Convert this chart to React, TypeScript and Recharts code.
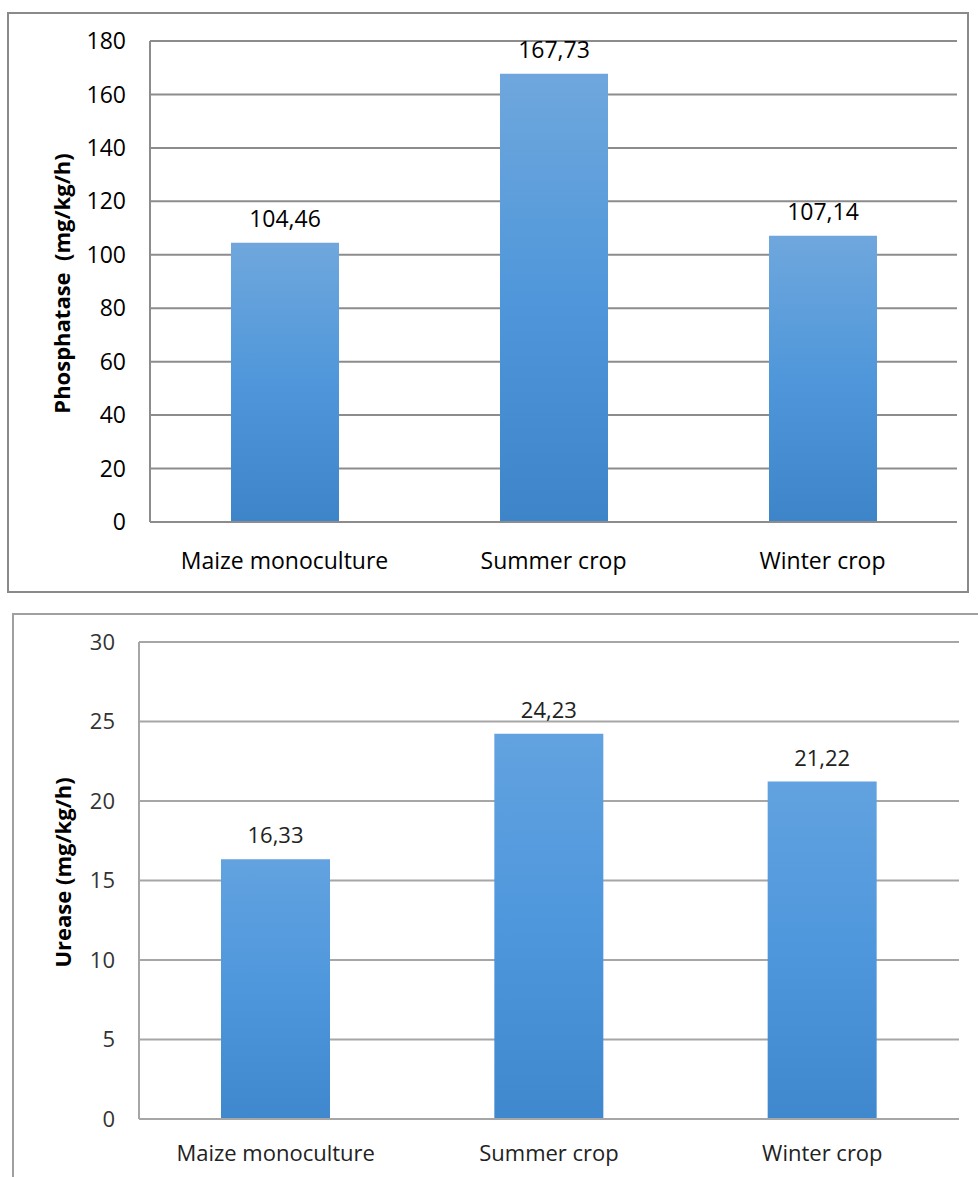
import React from 'react';
import { BarChart, Bar, XAxis, YAxis, CartesianGrid, LabelList } from 'recharts';

const categories = ['Maize monoculture', 'Summer crop', 'Winter crop'];
const phosphataseValues = [104.46, 167.73, 107.14];
const ureaseValues = [16.33, 24.23, 21.22];
const phosphataseTicks = [0, 20, 40, 60, 80, 100, 120, 140, 160, 180];
const ureaseTicks = [0, 5, 10, 15, 20, 25, 30];

const phosphataseData = categories.map((name, i) => ({ name, value: phosphataseValues[i] }));
const ureaseData = categories.map((name, i) => ({ name, value: ureaseValues[i] }));

const FONT = '"Open Sans", "DejaVu Sans", sans-serif';
const fmt = (v: any) => Number(v).toFixed(2).replace('.', ',');

const makeTitle = (text: string, dx: number, dy: number, size: number) => (props: any) => {
  const vb = props.viewBox || {};
  const cx = (vb.x || 0) + dx;
  const cy = (vb.y || 0) + (vb.height || 0) / 2 + dy;
  return (
    <text
      x={cx}
      y={cy}
      transform={`rotate(-90 ${cx} ${cy})`}
      textAnchor="middle"
      dominantBaseline="central"
      fontFamily={FONT}
      fontWeight="bold"
      fontSize={size}
      fill="#000"
      style={{ whiteSpace: 'pre' }}
    >
      {text}
    </text>
  );
};

export default function App() {
  return (
    <div
      style={{
        position: 'absolute',
        left: 0,
        top: 0,
        width: 978,
        height: 1177,
        overflow: 'hidden',
        background: '#fff',
      }}
    >
      <div
        style={{
          position: 'absolute',
          left: 7,
          top: 12,
          width: 962,
          height: 581,
          boxSizing: 'border-box',
          border: '2px solid #8a8a8a',
        }}
      >
        <BarChart
          width={958}
          height={577}
          data={phosphataseData}
          margin={{ top: 27, right: 10, left: 0, bottom: 0 }}
        >
          <defs>
            <linearGradient id="gradTop" x1="0" y1="0" x2="0" y2="1">
              <stop offset="0%" stopColor="#6FA7DD" />
              <stop offset="50%" stopColor="#4F97DA" />
              <stop offset="100%" stopColor="#3D85C8" />
            </linearGradient>
          </defs>
          <CartesianGrid vertical={false} stroke="#8c8c8c" strokeWidth={2} />
          <XAxis
            dataKey="name"
            height={69}
            tickLine={false}
            tickSize={0}
            tickMargin={31}
            axisLine={{ stroke: '#8c8c8c', strokeWidth: 2 }}
            tick={{ fontFamily: FONT, fontSize: 23, fill: '#000' }}
          />
          <YAxis
            width={141}
            domain={[0, 180]}
            ticks={phosphataseTicks}
            interval={0}
            tickLine={false}
            tickSize={0}
            tickMargin={24}
            axisLine={{ stroke: '#8c8c8c', strokeWidth: 2 }}
            tick={{ fontFamily: FONT, fontSize: 23, fill: '#000' }}
            label={{ content: makeTitle('Phosphatase  (mg/kg/h)', 52, 2, 22) } as any}
          />
          <Bar dataKey="value" fill="url(#gradTop)" barSize={108} isAnimationActive={false}>
            <LabelList
              dataKey="value"
              position="top"
              offset={16}
              formatter={fmt}
              style={{ fontFamily: FONT, fontSize: 23, fill: '#000' }}
            />
          </Bar>
        </BarChart>
      </div>

      <div
        style={{
          position: 'absolute',
          left: 12,
          top: 613,
          width: 975,
          height: 600,
          boxSizing: 'border-box',
          border: '2px solid #a0a0a0',
        }}
      >
        <BarChart
          width={971}
          height={560}
          data={ureaseData}
          margin={{ top: 27, right: 26, left: 0, bottom: 0 }}
        >
          <defs>
            <linearGradient id="gradBottom" x1="0" y1="0" x2="0" y2="1">
              <stop offset="0%" stopColor="#62A2E0" />
              <stop offset="50%" stopColor="#4E97DC" />
              <stop offset="100%" stopColor="#3F88CD" />
            </linearGradient>
          </defs>
          <CartesianGrid vertical={false} stroke="#a6a6a6" strokeWidth={2} />
          <XAxis
            dataKey="name"
            height={56}
            tickLine={false}
            tickSize={0}
            tickMargin={26}
            axisLine={{ stroke: '#a6a6a6', strokeWidth: 2 }}
            tick={{ fontFamily: FONT, fontSize: 22, fill: '#222' }}
          />
          <YAxis
            width={125}
            domain={[0, 30]}
            ticks={ureaseTicks}
            interval={0}
            tickLine={false}
            tickSize={0}
            tickMargin={24}
            axisLine={{ stroke: '#a6a6a6', strokeWidth: 2 }}
            tick={{ fontFamily: FONT, fontSize: 22, fill: '#333' }}
            label={{ content: makeTitle('Urease (mg/kg/h)', 48, -8, 22) } as any}
          />
          <Bar dataKey="value" fill="url(#gradBottom)" barSize={109} isAnimationActive={false}>
            <LabelList
              dataKey="value"
              position="top"
              offset={16}
              formatter={fmt}
              style={{ fontFamily: FONT, fontSize: 22, fill: '#222' }}
            />
          </Bar>
        </BarChart>
      </div>
    </div>
  );
}
